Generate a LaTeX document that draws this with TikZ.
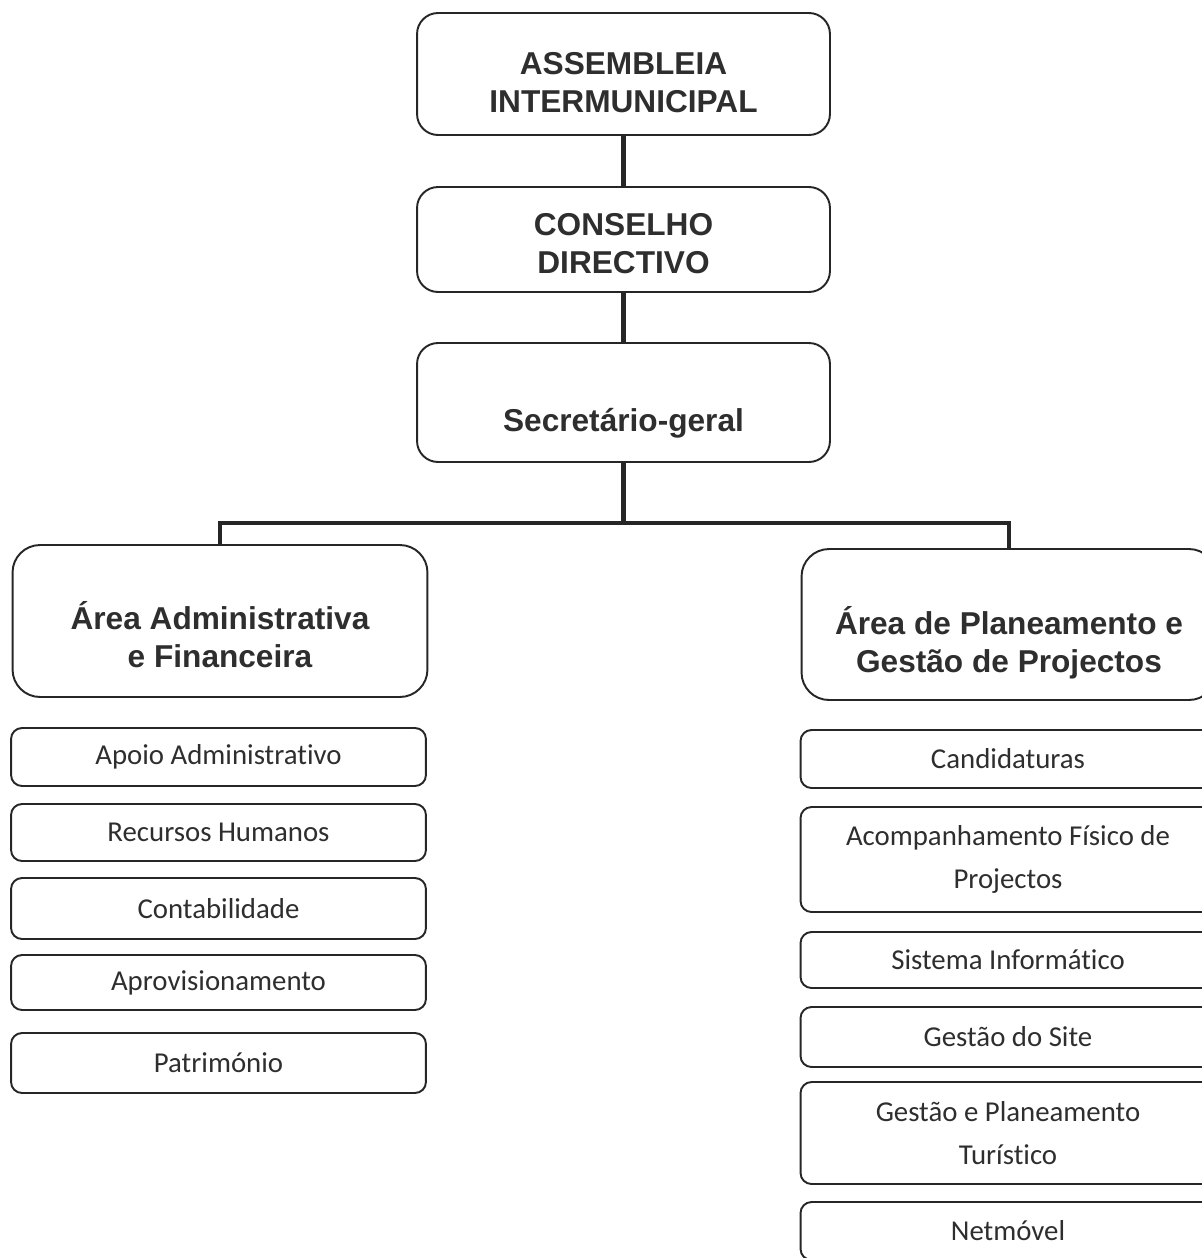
\documentclass[tikz,border=0pt]{standalone}
\usepackage{fontspec}
\setmainfont{Carlito}[Ligatures={NoCommon,NoContextual}]
\newfontfamily\headfont{Liberation Sans}
\definecolor{linecol}{HTML}{262626}
\definecolor{textcol}{HTML}{2E2E2E}

\begin{document}
\begin{tikzpicture}[x=0.02cm, y=-0.02cm,
    topbox/.style={draw=linecol, line width=1.1pt, rounded corners=0.42cm, minimum width=8.26cm, inner sep=0pt},
    areabox/.style={draw=linecol, line width=1.1pt, rounded corners=0.55cm, minimum width=8.3cm, inner sep=0pt},
    subbox/.style={draw=linecol, line width=1.1pt, rounded corners=0.22cm, minimum width=8.3cm, inner sep=0pt,
        align=center, text=textcol, font=\fontsize{16.4}{24.5}\selectfont},
    headtxt/.style={anchor=base, align=center, text=textcol, font=\headfont\bfseries\fontsize{18}{21.5}\selectfont},
    link/.style={draw=linecol, line width=2.4pt}]

    \useasboundingbox (0,0) rectangle (1202,1258);
    \clip (0,0) rectangle (1202,1258);

    % --- ORGAOS ---
    \node[topbox, minimum height=2.44cm] (assembleia) at (623.5,74) {};
    \node[headtxt] (assembleia-txt) at (623.5,112) {ASSEMBLEIA\\INTERMUNICIPAL};

    \node[topbox, minimum height=2.10cm] (conselho) at (623.5,239.5) {};
    \node[headtxt] (conselho-txt) at (623.5,273) {CONSELHO\\DIRECTIVO};

    \node[topbox, minimum height=2.38cm] (secretario) at (623.5,402.5) {};
    \node[headtxt] (secretario-txt) at (623.5,431) {Secretário-geral};

    % --- AREAS ---
    \node[areabox, minimum height=3.04cm] (admin) at (220,621) {};
    \node[headtxt] (admin-txt) at (220,667) {Área Administrativa\\e Financeira};

    \node[areabox, minimum height=3.02cm] (planeamento) at (1009,624.5) {};
    \node[headtxt] (planeamento-txt) at (1009,672) {Área de Planeamento e\\Gestão de Projectos};

    % --- LIGACOES ---
    \draw[link] (assembleia) -- (conselho);
    \draw[link] (conselho) -- (secretario);
    \coordinate (ramo) at (623.5,523);
    \draw[link] (secretario) -- (ramo);
    \draw[link] (admin) |- (ramo) -| (planeamento);

    % --- SECTORES (esquerda) ---
    \node[subbox, minimum height=1.16cm] (apoio) at (218.5,757) {Apoio Administrativo};
    \node[subbox, minimum height=1.14cm] (recursos) at (218.5,832.5) {Recursos Humanos};
    \node[subbox, minimum height=1.22cm] (contab) at (218.5,908.5) {Contabilidade};
    \node[subbox, minimum height=1.10cm] (aprov) at (218.5,982.5) {Aprovisionamento};
    \node[subbox, minimum height=1.20cm] (patrim) at (218.5,1063) {Património};

    % --- SECTORES (direita) ---
    \node[subbox, minimum height=1.16cm] (candid) at (1008,759) {Candidaturas};
    \node[subbox, minimum height=2.10cm] (acomp) at (1008,859.5) {Acompanhamento Físico de\\Projectos};
    \node[subbox, minimum height=1.12cm] (sistema) at (1008,960) {Sistema Informático};
    \node[subbox, minimum height=1.20cm] (site) at (1008,1037) {Gestão do Site};
    \node[subbox, minimum height=2.04cm] (turismo) at (1008,1133) {Gestão e Planeamento\\Turístico};
    \node[subbox, minimum height=1.16cm] (netmovel) at (1008,1231) {Netmóvel};

\end{tikzpicture}
\end{document}
